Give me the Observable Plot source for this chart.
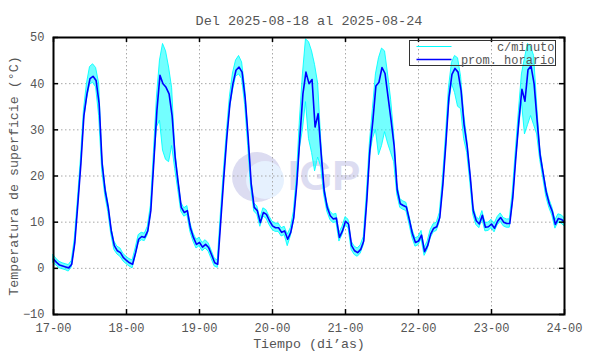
<!DOCTYPE html>
<html>
<head>
<meta charset="utf-8">
<script src="https://cdn.jsdelivr.net/npm/d3@7"></script>
<script src="https://cdn.jsdelivr.net/npm/@observablehq/plot@0.6"></script>
<style>
  html, body { margin: 0; padding: 0; background: #fff; }
</style>
</head>
<body>
<div id="chart"></div>
<script>
// ---- data (hours from 2025-08-17 00:00) ----
const dayLabels = ["17-00","18-00","19-00","20-00","21-00","22-00","23-00","24-00"];
const dayTickHours = [0, 24, 48, 72, 96, 120, 144, 168];
const yTicks = [-10, 0, 10, 20, 30, 40, 50];
const titleText = "Del 2025-08-18 al 2025-08-24";
const yLabel = "Temperatura de superficie (°C)";
const xLabel = "Tiempo (di’as)";
const seriesNames = ["c/minuto", "prom. horario"];

// hourly average (prom. horario)
const promHorario = [
  2.0,1.3,0.7,0.5,0.3,0.1,0.9,5.5,13.9,22.6,33.1,37.8,41.1,41.6,40.7,35.7,22.6,16.8,13.2,8.1,4.9,3.8,3.4,2.3,
  1.7,1.2,0.9,3.4,6.3,6.9,6.7,8.1,12.5,23.3,34.2,41.8,40.0,39.2,37.8,33.0,24.0,18.5,13.2,12.1,12.5,8.8,6.7,5.2,
  5.6,4.6,5.2,4.5,2.9,1.2,0.9,10.3,19.7,28.4,35.7,40.0,42.9,43.6,42.5,37.0,28.4,18.3,13.2,12.5,9.9,12.1,11.7,10.3,
  9.2,8.8,8.8,7.8,8.1,6.3,7.8,11.0,18.3,28.4,37.8,42.5,40.0,40.9,30.6,33.5,24.8,16.8,13.2,11.4,10.7,10.9,6.7,8.1,
  10.2,9.6,4.9,3.8,3.4,4.1,5.9,14.6,25.5,32.0,39.5,40.3,43.5,42.2,37.1,32.0,26.5,17.0,14.0,13.6,13.3,10.5,7.5,5.6,
  5.9,7.2,3.6,4.9,7.4,8.7,9.0,11.0,18.0,27.0,37.0,42.0,43.3,42.5,38.5,31.0,26.5,20.0,12.5,10.3,9.6,11.5,8.9,9.0,
  9.6,8.7,10.2,11.0,10.0,9.7,9.7,15.3,24.0,32.0,38.8,36.2,43.0,43.8,40.0,32.0,24.5,20.5,16.5,14.0,12.3,9.5,10.8,10.6,
  10.0
];
// per-minute readings: highest value within each hour
const minutoMax = [
  2.9,2.0,1.4,1.1,0.9,0.7,1.6,6.4,14.8,23.6,34.2,40.0,43.6,44.2,43.4,40.0,24.5,18.0,14.2,9.0,5.8,4.7,4.3,3.1,
  2.5,2.0,1.7,4.3,7.2,7.7,7.5,9.0,13.5,25.0,37.0,45.0,48.6,47.0,43.5,39.0,26.0,19.5,14.2,13.0,13.5,9.8,7.6,6.2,
  6.6,5.5,6.1,5.4,3.8,2.1,1.7,11.6,21.0,29.6,37.2,42.2,45.0,46.0,44.6,39.2,29.6,19.6,14.1,13.4,10.8,13.0,12.6,11.2,
  10.1,9.7,9.7,8.7,9.0,7.3,8.7,12.2,19.6,32.0,42.0,49.6,49.0,47.0,44.0,40.0,28.0,18.2,14.2,12.3,11.6,11.8,7.7,9.0,
  11.1,10.5,5.8,4.7,4.3,5.0,6.8,16.0,27.0,34.5,42.0,45.5,47.6,47.0,42.0,36.5,29.0,18.5,15.0,14.5,14.2,11.4,8.4,6.5,
  6.8,8.1,4.5,5.8,8.3,9.6,9.9,12.0,19.2,28.5,39.0,44.5,46.0,45.5,41.5,33.5,28.0,21.0,13.5,11.2,10.5,12.4,9.8,9.9,
  10.5,9.6,11.1,11.9,10.9,10.6,10.6,16.6,25.5,34.0,42.0,45.5,48.6,48.0,46.0,35.5,26.0,21.5,17.5,15.0,13.2,10.4,11.7,11.5,
  10.9
];
// per-minute readings: lowest value within each hour
const minutoMin = [
  1.1,0.6,0.0,-0.2,-0.4,-0.7,0.2,4.6,13.0,21.6,32.0,36.5,39.8,40.2,39.2,33.0,21.2,15.8,12.2,7.3,4.0,3.0,2.5,1.5,
  0.9,0.4,0.0,2.6,5.5,6.1,5.9,7.2,11.6,22.0,30.5,32.0,25.5,23.5,23.0,26.5,21.5,17.0,12.3,11.2,11.6,7.9,5.8,4.3,
  4.8,3.7,4.3,3.6,2.0,0.4,0.1,9.4,18.8,27.4,34.4,38.5,41.5,42.0,41.0,35.4,26.5,17.3,12.3,11.6,9.0,11.2,10.8,9.4,
  8.3,7.9,7.9,6.9,7.2,4.8,6.9,10.0,17.2,26.0,30.0,36.0,28.0,25.0,21.0,24.0,22.0,15.8,12.3,10.5,9.8,10.0,5.8,7.2,
  9.3,8.7,4.0,2.9,2.5,3.2,5.0,13.4,24.0,28.0,30.0,24.5,26.5,29.5,27.0,25.0,23.0,16.0,13.1,12.7,12.4,9.6,6.6,4.7,
  5.0,6.3,2.7,4.0,6.5,7.8,8.1,10.0,17.0,25.8,35.0,40.0,38.0,35.0,34.5,28.0,25.0,18.8,11.6,9.4,8.7,10.6,8.0,8.1,
  8.7,7.8,9.3,10.1,9.1,8.8,8.8,14.0,23.0,30.0,36.0,29.0,31.0,33.0,31.0,29.0,23.5,19.5,15.5,13.1,11.4,8.6,9.9,9.7,
  9.1
];

const rows = promHorario.map((v, i) => ({h: i, v, hi: minutoMax[i], lo: minutoMin[i]}));

const textColor = "#555555";
const mono = "Liberation Mono, DejaVu Sans Mono, monospace";
const W = 590, H = 354, mL = 53, mR = 26, mT = 37, mB = 40;
const frameW = W - mL - mR, frameH = H - mT - mB;

const svg = Plot.plot({
  width: W,
  height: H,
  marginLeft: mL, marginRight: mR, marginTop: mT, marginBottom: mB,
  style: {fontFamily: mono, fontSize: "12px", background: "#fff", color: textColor},
  x: {domain: [0, 168], axis: null},
  y: {domain: [-10, 50], axis: null},
  marks: [
    // watermark
    Plot.dot([0], {frameAnchor: "middle", dx: -52, dy: 1, r: 25, fill: "#dcdcf1", stroke: "none"}),
    Plot.dot([0], {frameAnchor: "middle", dx: -44, dy: 4, r: 19, fill: "#e6f1fe", stroke: "none"}),
    Plot.text(["IGP"], {text: d => d, frameAnchor: "middle", dx: 15, dy: 1, fontSize: 42, fontWeight: "bold",
      fontFamily: "Liberation Sans, Arial, sans-serif", fill: "#dcdcf1"}),
    // grid
    Plot.ruleX(dayTickHours.slice(1, -1), {x: d => d, stroke: "#a8a8a8", strokeDasharray: "1.5,2.5"}),
    Plot.ruleY(yTicks.slice(1, -1), {y: d => d, stroke: "#a8a8a8", strokeDasharray: "1.5,2.5"}),
    // per-minute envelope
    Plot.areaY(rows, {x: "h", y1: "lo", y2: "hi", fill: "#00ffff", fillOpacity: 0.55,
      stroke: "#00ffff", strokeWidth: 0.9}),
    // hourly mean
    Plot.lineY(rows, {x: "h", y: "v", stroke: "#0000ff", strokeWidth: 1.6}),
    // inward ticks
    Plot.tickX(dayTickHours, {x: d => d, insetTop: frameH - 5, stroke: "#000", strokeWidth: 1.5}),
    Plot.tickX(dayTickHours, {x: d => d, insetBottom: frameH - 5, stroke: "#000", strokeWidth: 1.5}),
    Plot.tickY(yTicks, {y: d => d, insetRight: frameW - 5, stroke: "#000", strokeWidth: 1.5}),
    Plot.tickY(yTicks, {y: d => d, insetLeft: frameW - 5, stroke: "#000", strokeWidth: 1.5}),
    Plot.frame({stroke: "#000", strokeWidth: 2}),
    // axes labels
    Plot.axisX(dayTickHours, {anchor: "bottom", tickSize: 0, tickPadding: 9, label: null,
      tickFormat: (d, i) => dayLabels[i], fill: textColor, fontSize: 12}),
    Plot.axisY(yTicks, {anchor: "left", tickSize: 0, tickPadding: 9, label: null,
      fill: textColor, fontSize: 12}),
    Plot.text([yLabel], {text: d => d, frameAnchor: "left", textAnchor: "middle", dx: -40, rotate: -90,
      fill: textColor, fontSize: 13.3}),
    Plot.text([xLabel], {text: d => d, frameAnchor: "bottom", dy: 33, fill: textColor, fontSize: 13.3}),
    Plot.text([titleText], {text: d => d, frameAnchor: "top", dy: -22, fill: textColor, fontSize: 13.5})
  ]
});

// legend (box in upper right of plot frame)
const s = d3.select(svg);
const lg = s.append("g").attr("font-family", mono).attr("font-size", 12);
const bx = mL + frameW - 154.5, by = mT + 3.5, bw = 146, bh = 25;
lg.append("rect").attr("x", bx).attr("y", by).attr("width", bw).attr("height", bh)
  .attr("fill", "none").attr("stroke", "#333").attr("stroke-width", 1);
const colors = ["#00ffff", "#0000ff"];
seriesNames.forEach((name, i) => {
  const yy = by + 6 + i * 13;
  lg.append("line").attr("x1", bx + 7).attr("x2", bx + 42).attr("y1", yy).attr("y2", yy)
    .attr("stroke", colors[i]).attr("stroke-width", i ? 1.6 : 1);
  lg.append("text").attr("x", bx + bw - 1).attr("y", yy).attr("dy", "0.35em")
    .attr("text-anchor", "end").attr("fill", textColor).text(name);
});

document.getElementById("chart").appendChild(svg);
</script>
</body>
</html>
